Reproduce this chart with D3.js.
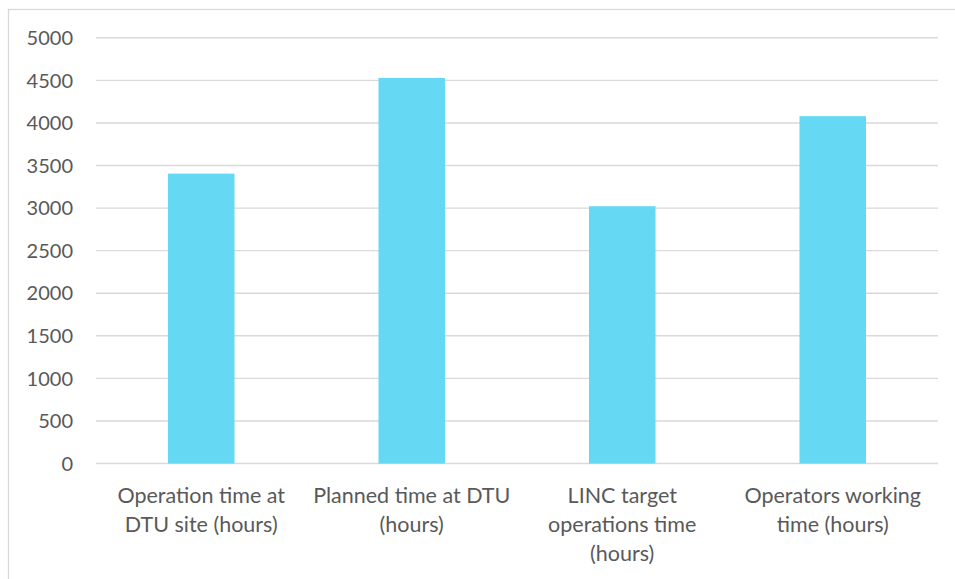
<!DOCTYPE html>
<html>
<head>
<meta charset="utf-8">
<script src="https://cdn.jsdelivr.net/npm/d3@7/dist/d3.min.js"></script>
<style>
  html, body { margin: 0; padding: 0; background: #fff; }
  svg { display: block; }
  text { font-family: Lato, "Noto Sans", sans-serif; fill: #595959; }
</style>
</head>
<body>
<svg id="chart" width="955" height="579"></svg>
<script>
const categories = [
  "Operation time at\nDTU site (hours)",
  "Planned time at DTU\n(hours)",
  "LINC target\noperations time\n(hours)",
  "Operators working\ntime (hours)"
];
const values = [3405, 4528, 3022, 4080];
const yTicks = [0, 500, 1000, 1500, 2000, 2500, 3000, 3500, 4000, 4500, 5000];

const svg = d3.select("#chart");
const W = 955, H = 579;
const plot = { left: 96, right: 938, top: 37.8, bottom: 463.5 };

// outer chart border
svg.append("rect")
  .attr("x", 8.5).attr("y", 9.5)
  .attr("width", W).attr("height", H)
  .attr("fill", "none").attr("stroke", "#d9d9d9").attr("stroke-width", 1.3);

const x = d3.scaleBand()
  .domain(categories)
  .range([plot.left, plot.right])
  .paddingInner(0.684)
  .paddingOuter(0.342);

const y = d3.scaleLinear()
  .domain([0, 5000])
  .range([plot.bottom, plot.top]);

// gridlines
svg.append("g")
  .selectAll("line")
  .data(yTicks)
  .join("line")
  .attr("x1", plot.left).attr("x2", plot.right)
  .attr("y1", d => y(d)).attr("y2", d => y(d))
  .attr("stroke", "#d9d9d9").attr("stroke-width", 1.4);

// y tick labels
svg.append("g")
  .selectAll("text")
  .data(yTicks)
  .join("text")
  .attr("x", 73)
  .attr("y", d => y(d))
  .attr("dy", "0.36em")
  .attr("text-anchor", "end")
  .attr("font-size", 20)
  .text(d => d);

// bars
svg.append("g")
  .selectAll("rect")
  .data(values)
  .join("rect")
  .attr("x", (d, i) => x(categories[i]))
  .attr("width", x.bandwidth())
  .attr("y", d => y(d))
  .attr("height", d => y(0) - y(d))
  .attr("fill", "#65d8f4");

// category labels
const lab = svg.append("g")
  .selectAll("text")
  .data(categories)
  .join("text")
  .attr("text-anchor", "middle")
  .attr("font-size", 21.5)
  .attr("x", d => x(d) + x.bandwidth() / 2)
  .attr("y", 502);
lab.each(function(d) {
  const t = d3.select(this);
  const cx = x(d) + x.bandwidth() / 2;
  d.split("\n").forEach((line, i) => {
    t.append("tspan").attr("x", cx).attr("y", 503 + i * 29).text(line);
  });
});
</script>
</body>
</html>
